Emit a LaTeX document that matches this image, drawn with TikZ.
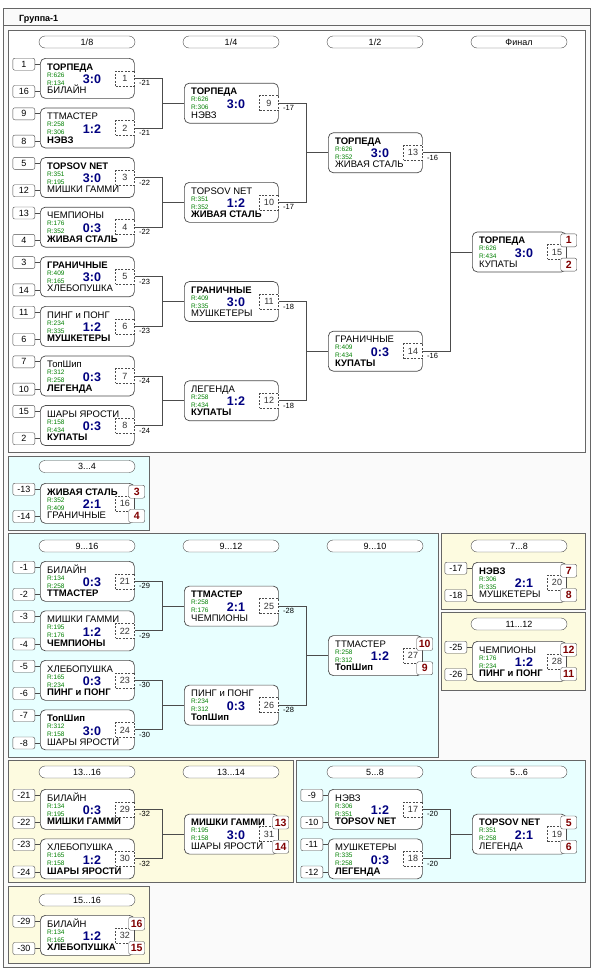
\documentclass[tikz,border=0pt]{standalone}
\usepackage{fontspec}
\setmainfont{Liberation Sans}
\usetikzlibrary{calc}

\definecolor{scoreblue}{RGB}{0,0,128}
\definecolor{ratinggreen}{RGB}{0,128,0}
\definecolor{placered}{RGB}{128,0,0}
\definecolor{panelcyan}{RGB}{232,255,255}
\definecolor{panelcream}{RGB}{253,251,224}

% one game box: number, top left, first team, rating, score, rating, second team
\newcommand{\game}[7]{%
  \node[gamebox] (m#1) at (#2) {};
  \node[team] (m#1t) at ($(m#1.north west)+(7,12)$) {#3};
  \node[rating] (m#1r) at ($(m#1.north west)+(7,19)$) {R:#4};
  \node[score] (m#1s) at ($(m#1.north west)+(52,25.5)$) {#5};
  \node[rating] (m#1q) at ($(m#1.north west)+(7,27)$) {R:#6};
  \node[team] (m#1b) at ($(m#1.north west)+(7,35.5)$) {#7};
  \node[gameno, anchor=east] (n#1) at (m#1.east) {#1};
}
% seeds on the left of a game
\newcommand{\seeds}[3]{%
  \node[seed, anchor=north east] (s#1a) at ($(m#1.north west)+(-5,0)$) {#2};
  \node[seed, anchor=south east] (s#1b) at ($(m#1.south west)+(-5,-1)$) {#3};
  \draw[link] (s#1a.east) -- (s#1a.east -| m#1.west);
  \draw[link] (s#1b.east) -- (s#1b.east -| m#1.west);
}
% places on the right of a game
\newcommand{\places}[3]{%
  \node[place, anchor=north] (p#1a) at ($(m#1.north east)+(2,2)$) {#2};
  \node[place, anchor=south] (p#1b) at ($(m#1.south east)+(2,-1)$) {#3};
  \draw[link] (p#1a.south -| n#1.east) -- (p#1b.north -| n#1.east);
}

\begin{document}
\begin{tikzpicture}[x=1pt, y=-1pt,
    gamebox/.style={draw=black!70, fill=white, rounded corners=5pt, minimum width=94, minimum height=40, anchor=north west, line width=0.7pt, inner sep=0},
    team/.style={anchor=base west, inner sep=0, font=\fontsize{9.5}{10}\selectfont},
    rating/.style={anchor=base west, inner sep=0, text=ratinggreen, font=\fontsize{6.5}{7}\selectfont},
    score/.style={anchor=base, inner sep=0, text=scoreblue, font=\bfseries\fontsize{12.5}{13}\selectfont},
    gameno/.style={draw=black!70, dash pattern=on 2pt off 1.5pt, fill=white, minimum width=19, minimum height=15, inner sep=0, text=black!80, font=\fontsize{9}{10}\selectfont},
    seed/.style={draw=black!70, fill=white, rounded corners=2pt, minimum width=22, minimum height=12, inner sep=0, font=\fontsize{9}{10}\selectfont},
    place/.style={draw=black!70, fill=white, rounded corners=2pt, minimum width=16, minimum height=13, inner sep=0, text=placered, font=\bfseries\fontsize{10.5}{11}\selectfont},
    stage/.style={draw=black!70, fill=white, rounded corners=6pt, minimum width=96, minimum height=12, inner sep=0, font=\fontsize{9}{10}\selectfont},
    link/.style={draw=black!70, line width=0.8pt},
    loser/.style={pos=0, anchor=north west, xshift=4pt, yshift=-2pt, inner sep=0, font=\fontsize{7.5}{8}\selectfont},
    panel/.style={draw=black!60, line width=0.8pt}]
    \useasboundingbox (0,0) rectangle (593,975);

    % Frame
    \draw[panel, fill=gray!4] (3,8) rectangle (590,967);
    \draw[panel] (3,25) -- (590,25);
    \node[anchor=base west, inner sep=0, font=\bfseries\fontsize{9}{10}\selectfont] (title) at (19,21) {Группа-1};

    % Panels
    \draw[panel, fill=white] (8,30) rectangle (585,452);
    \draw[panel, fill=panelcyan] (8,456) rectangle (149,530);
    \draw[panel, fill=panelcyan] (8,533) rectangle (438,757);
    \draw[panel, fill=panelcream] (441,533) rectangle (585,609);
    \draw[panel, fill=panelcream] (441,612) rectangle (585,690);
    \draw[panel, fill=panelcream] (8,760) rectangle (293,882);
    \draw[panel, fill=panelcyan] (296,760) rectangle (585,882);
    \draw[panel, fill=panelcream] (8,886) rectangle (149,963);

    % Stages
    \node[stage] (st1) at (87,42) {1/8};
    \node[stage] (st2) at (231,42) {1/4};
    \node[stage] (st3) at (375,42) {1/2};
    \node[stage] (st4) at (519,42) {Финал};
    \node[stage] (st5) at (87,466.5) {3...4};
    \node[stage] (st6) at (87,546) {9...16};
    \node[stage] (st7) at (231,546) {9...12};
    \node[stage] (st8) at (375,546) {9...10};
    \node[stage] (st9) at (519,546) {7...8};
    \node[stage] (st10) at (519,624) {11...12};
    \node[stage] (st11) at (87,772) {13...16};
    \node[stage] (st12) at (231,772) {13...14};
    \node[stage] (st13) at (375,772) {5...8};
    \node[stage] (st14) at (519,772) {5...6};
    \node[stage] (st15) at (87,900) {15...16};

    % Main bracket
    \game{1}{40,58}{\textbf{ТОРПЕДА}}{626}{3:0}{134}{БИЛАЙН}
    \game{2}{40,107.6}{ТТМАСТЕР}{258}{1:2}{306}{\textbf{НЭВЗ}}
    \game{3}{40,157.2}{\textbf{TOPSOV NET}}{351}{3:0}{195}{МИШКИ ГАММИ}
    \game{4}{40,206.8}{ЧЕМПИОНЫ}{176}{0:3}{352}{\textbf{ЖИВАЯ СТАЛЬ}}
    \game{5}{40,256.4}{\textbf{ГРАНИЧНЫЕ}}{409}{3:0}{165}{ХЛЕБОПУШКА}
    \game{6}{40,306}{ПИНГ и ПОНГ}{234}{1:2}{335}{\textbf{МУШКЕТЕРЫ}}
    \game{7}{40,355.6}{ТопШип}{312}{0:3}{258}{\textbf{ЛЕГЕНДА}}
    \game{8}{40,405.2}{ШАРЫ ЯРОСТИ}{158}{0:3}{434}{\textbf{КУПАТЫ}}
    \game{9}{184,82.8}{\textbf{ТОРПЕДА}}{626}{3:0}{306}{НЭВЗ}
    \game{10}{184,182}{TOPSOV NET}{351}{1:2}{352}{\textbf{ЖИВАЯ СТАЛЬ}}
    \game{11}{184,281.2}{\textbf{ГРАНИЧНЫЕ}}{409}{3:0}{335}{МУШКЕТЕРЫ}
    \game{12}{184,380.4}{ЛЕГЕНДА}{258}{1:2}{434}{\textbf{КУПАТЫ}}
    \game{13}{328,132.4}{\textbf{ТОРПЕДА}}{626}{3:0}{352}{ЖИВАЯ СТАЛЬ}
    \game{14}{328,330.8}{ГРАНИЧНЫЕ}{409}{0:3}{434}{\textbf{КУПАТЫ}}
    \game{15}{472,231.6}{\textbf{ТОРПЕДА}}{626}{3:0}{434}{КУПАТЫ}
    \seeds{1}{1}{16} \seeds{2}{9}{8} \seeds{3}{5}{12} \seeds{4}{13}{4}
    \seeds{5}{3}{14} \seeds{6}{11}{6} \seeds{7}{7}{10} \seeds{8}{15}{2}
    \places{15}{1}{2}
    \draw[link] (m1.east) -- node[loser]{-21} ++(28,0) |- (m9.west);
    \draw[link] (m2.east) -- node[loser]{-21} ++(28,0) |- (m9.west);
    \draw[link] (m3.east) -- node[loser]{-22} ++(28,0) |- (m10.west);
    \draw[link] (m4.east) -- node[loser]{-22} ++(28,0) |- (m10.west);
    \draw[link] (m5.east) -- node[loser]{-23} ++(28,0) |- (m11.west);
    \draw[link] (m6.east) -- node[loser]{-23} ++(28,0) |- (m11.west);
    \draw[link] (m7.east) -- node[loser]{-24} ++(28,0) |- (m12.west);
    \draw[link] (m8.east) -- node[loser]{-24} ++(28,0) |- (m12.west);
    \draw[link] (m9.east) -- node[loser]{-17} ++(28,0) |- (m13.west);
    \draw[link] (m10.east) -- node[loser]{-17} ++(28,0) |- (m13.west);
    \draw[link] (m11.east) -- node[loser]{-18} ++(28,0) |- (m14.west);
    \draw[link] (m12.east) -- node[loser]{-18} ++(28,0) |- (m14.west);
    \draw[link] (m13.east) -- node[loser]{-16} ++(28,0) |- (m15.west);
    \draw[link] (m14.east) -- node[loser]{-16} ++(28,0) |- (m15.west);

    % 3...4
    \game{16}{40,483}{\textbf{ЖИВАЯ СТАЛЬ}}{352}{2:1}{409}{ГРАНИЧНЫЕ}
    \seeds{16}{-13}{-14} \places{16}{3}{4}

    % 9...16
    \game{21}{40,561}{БИЛАЙН}{134}{0:3}{258}{\textbf{ТТМАСТЕР}}
    \game{22}{40,610.5}{МИШКИ ГАММИ}{195}{1:2}{176}{\textbf{ЧЕМПИОНЫ}}
    \game{23}{40,660}{ХЛЕБОПУШКА}{165}{0:3}{234}{\textbf{ПИНГ и ПОНГ}}
    \game{24}{40,709.5}{\textbf{ТопШип}}{312}{3:0}{158}{ШАРЫ ЯРОСТИ}
    \game{25}{184,585.75}{\textbf{ТТМАСТЕР}}{258}{2:1}{176}{ЧЕМПИОНЫ}
    \game{26}{184,684.75}{ПИНГ и ПОНГ}{234}{0:3}{312}{\textbf{ТопШип}}
    \game{27}{328,635.25}{ТТМАСТЕР}{258}{1:2}{312}{\textbf{ТопШип}}
    \seeds{21}{-1}{-2} \seeds{22}{-3}{-4} \seeds{23}{-5}{-6} \seeds{24}{-7}{-8}
    \places{27}{10}{9}
    \draw[link] (m21.east) -- node[loser]{-29} ++(28,0) |- (m25.west);
    \draw[link] (m22.east) -- node[loser]{-29} ++(28,0) |- (m25.west);
    \draw[link] (m23.east) -- node[loser]{-30} ++(28,0) |- (m26.west);
    \draw[link] (m24.east) -- node[loser]{-30} ++(28,0) |- (m26.west);
    \draw[link] (m25.east) -- node[loser]{-28} ++(28,0) |- (m27.west);
    \draw[link] (m26.east) -- node[loser]{-28} ++(28,0) |- (m27.west);

    % 7...8 and 11...12
    \game{20}{472,562}{\textbf{НЭВЗ}}{306}{2:1}{335}{МУШКЕТЕРЫ}
    \seeds{20}{-17}{-18} \places{20}{7}{8}
    \game{28}{472,641}{ЧЕМПИОНЫ}{176}{1:2}{234}{\textbf{ПИНГ и ПОНГ}}
    \seeds{28}{-25}{-26} \places{28}{12}{11}

    % 13...16
    \game{29}{40,789}{БИЛАЙН}{134}{0:3}{195}{\textbf{МИШКИ ГАММИ}}
    \game{30}{40,838.5}{ХЛЕБОПУШКА}{165}{1:2}{158}{\textbf{ШАРЫ ЯРОСТИ}}
    \game{31}{184,813.75}{\textbf{МИШКИ ГАММИ}}{195}{3:0}{158}{ШАРЫ ЯРОСТИ}
    \seeds{29}{-21}{-22} \seeds{30}{-23}{-24} \places{31}{13}{14}
    \draw[link] (m29.east) -- node[loser]{-32} ++(28,0) |- (m31.west);
    \draw[link] (m30.east) -- node[loser]{-32} ++(28,0) |- (m31.west);

    % 5...8
    \game{17}{328,789}{НЭВЗ}{306}{1:2}{351}{\textbf{TOPSOV NET}}
    \game{18}{328,838.5}{МУШКЕТЕРЫ}{335}{0:3}{258}{\textbf{ЛЕГЕНДА}}
    \game{19}{472,813.75}{\textbf{TOPSOV NET}}{351}{2:1}{258}{ЛЕГЕНДА}
    \seeds{17}{-9}{-10} \seeds{18}{-11}{-12} \places{19}{5}{6}
    \draw[link] (m17.east) -- node[loser]{-20} ++(28,0) |- (m19.west);
    \draw[link] (m18.east) -- node[loser]{-20} ++(28,0) |- (m19.west);

    % 15...16
    \game{32}{40,915}{БИЛАЙН}{134}{1:2}{165}{\textbf{ХЛЕБОПУШКА}}
    \seeds{32}{-29}{-30} \places{32}{16}{15}
\end{tikzpicture}
\end{document}
